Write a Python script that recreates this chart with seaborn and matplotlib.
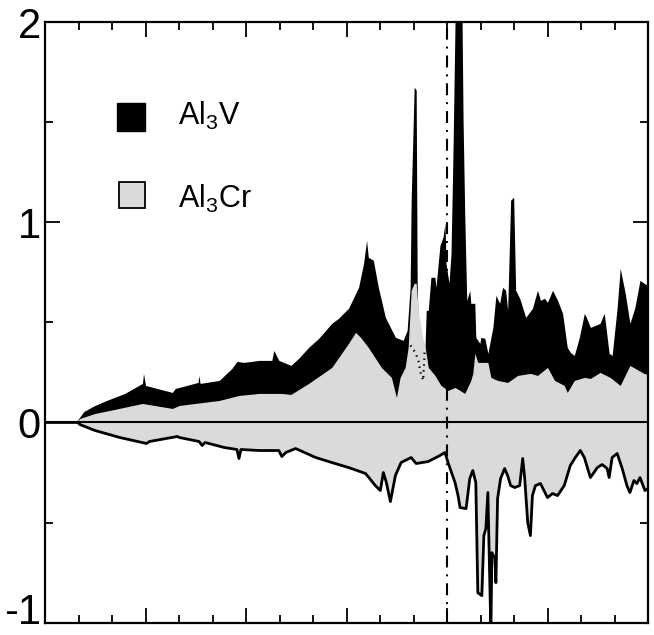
import numpy as np
import matplotlib
matplotlib.use("Agg")
import matplotlib.pyplot as plt
from matplotlib.patches import Rectangle
from matplotlib.transforms import ScaledTranslation
import seaborn as sns

# ---------------- data (energy in eV, DOS in arbitrary units) ----------------
# Al3V total DOS (black, upper)
e_v = [-12.0, -11.08, -10.84, -10.51, -10.16, -9.62, -9.09, -9.06, -9.0, -8.2, -8.11,
       -7.43, -7.41, -7.37, -6.8, -6.42, -6.27, -6.06, -5.61, -5.23, -5.17, -5.02,
       -4.66, -4.43, -4.13, -3.83, -3.44, -3.24, -2.94, -2.64, -2.49, -2.40, -2.35,
       -2.20, -2.05, -1.84, -1.54, -1.31, -1.19, -1.10, -1.07, -1.04, -0.98, -0.92,
       -0.89, -0.83, -0.74, -0.67, -0.62, -0.56, -0.48, -0.36, -0.33, -0.21, -0.12,
       -0.06, -0.03, 0.06, 0.12, 0.18, 0.24, 0.33, 0.45, 0.48, 0.53, 0.59, 0.68,
       0.71, 0.83, 0.86, 0.98, 1.01, 1.13, 1.22, 1.37, 1.46, 1.57, 1.66, 1.75, 1.81,
       1.90, 1.99, 2.05, 2.17, 2.35, 2.55, 2.70, 2.79, 2.91, 3.00, 3.15, 3.30, 3.45,
       3.59, 3.68, 3.80, 3.95, 4.10, 4.16, 4.28, 4.43, 4.57, 4.69, 4.72, 4.84, 4.93,
       5.08, 5.17, 5.32, 5.46, 5.61, 5.76, 5.88, 6.0]
dos_v = [0.0, 0.0, 0.055, 0.085, 0.11, 0.145, 0.195, 0.245, 0.185, 0.15, 0.17,
         0.2, 0.235, 0.195, 0.21, 0.27, 0.305, 0.30, 0.31, 0.31, 0.36, 0.31,
         0.285, 0.32, 0.375, 0.42, 0.495, 0.52, 0.57, 0.675, 0.795, 0.91, 0.825,
         0.81, 0.675, 0.525, 0.425, 0.41, 0.46, 0.675, 1.11, 1.295, 1.675, 1.66,
         0.695, 0.28, 0.21, 0.30, 0.56, 0.56, 0.725, 0.725, 0.675, 0.885, 0.925,
         0.995, 0.795, 0.695, 0.845, 1.36, 2.0, 2.6, 2.0, 1.51, 1.035, 0.61, 0.66,
         0.595, 0.595, 0.425, 0.395, 0.425, 0.42, 0.345, 0.475, 0.635, 0.595, 0.675, 0.66, 0.56,
         1.11, 1.125, 0.66, 0.62, 0.525, 0.57, 0.66, 0.61, 0.62, 0.60, 0.66, 0.61, 0.545,
         0.375, 0.35, 0.335, 0.425, 0.545, 0.525, 0.475, 0.485, 0.495, 0.545, 0.51, 0.345, 0.335,
         0.575, 0.77, 0.645, 0.495, 0.575, 0.71, 0.695, 0.685]

# Al3Cr total DOS (grey, upper)
e_cr = [-12.0, -11.08, -10.96, -10.51, -10.07, -9.09, -8.20, -7.99, -6.80, -6.21, -5.61,
        -4.93, -4.66, -4.13, -3.44, -2.94, -2.73, -2.58, -2.35, -1.96, -1.66, -1.51,
        -1.40, -1.25, -1.16, -1.07, -0.98, -0.92, -0.86, -0.74, -0.65, -0.56, -0.36,
        -0.18, 0.03, 0.24, 0.53, 0.71, 0.77, 0.83, 0.92, 1.22, 1.31, 1.51, 1.81, 2.11,
        2.49, 2.70, 3.00, 3.21, 3.50, 3.59, 3.80, 4.10, 4.28, 4.57, 4.87, 5.17, 5.46,
        5.88, 6.0]
dos_cr = [0.0, 0.0, 0.02, 0.045, 0.06, 0.095, 0.07, 0.085, 0.11, 0.135, 0.145,
          0.145, 0.14, 0.195, 0.275, 0.395, 0.45, 0.425, 0.375, 0.275, 0.225, 0.125,
          0.225, 0.275, 0.375, 0.66, 0.695, 0.695, 0.56, 0.435, 0.375, 0.275, 0.235,
          0.185, 0.16, 0.175, 0.145, 0.21, 0.245, 0.345, 0.30, 0.30, 0.225, 0.21, 0.20, 0.235,
          0.245, 0.235, 0.275, 0.21, 0.185, 0.15, 0.21, 0.225, 0.22, 0.25, 0.225, 0.185, 0.285,
          0.245, 0.24]

# Al3Cr lower panel (drawn downwards)
e_lo = [-12.0, -11.02, -10.96, -10.51, -9.77, -8.97, -8.88, -8.05, -7.99, -7.40, -7.31,
        -7.22, -6.65, -6.27, -6.21, -6.15, -5.61, -5.02, -4.93, -4.81, -4.52, -3.92,
        -3.44, -2.94, -2.43, -2.14, -1.99, -1.90, -1.81, -1.69, -1.54, -1.37, -1.07,
        -0.92, -0.56, -0.21, -0.06, 0.03, 0.24, 0.33, 0.39, 0.57, 0.68, 0.77, 0.86,
        0.92, 1.04, 1.10, 1.16, 1.22, 1.31, 1.34, 1.43, 1.46, 1.51, 1.60, 1.72, 1.81,
        1.90, 2.02, 2.17, 2.26, 2.32, 2.41, 2.49, 2.55, 2.64, 2.79, 3.00, 3.15, 3.30,
        3.50, 3.68, 3.83, 3.98, 4.10, 4.28, 4.49, 4.63, 4.78, 4.84, 4.93, 5.08, 5.23,
        5.37, 5.46, 5.58, 5.67, 5.76, 5.91, 6.0]
dos_lo = [0.0, 0.0, -0.01, -0.04, -0.075, -0.105, -0.095, -0.07, -0.075, -0.095, -0.115,
          -0.10, -0.125, -0.135, -0.18, -0.135, -0.14, -0.14, -0.17, -0.15, -0.13, -0.175,
          -0.20, -0.225, -0.255, -0.315, -0.34, -0.25, -0.30, -0.395, -0.265, -0.20, -0.175,
          -0.205, -0.195, -0.165, -0.15, -0.20, -0.30, -0.365, -0.425, -0.43, -0.28, -0.24, -0.30,
          -0.85, -0.865, -0.565, -0.53, -0.35, -1.05, -0.65, -0.68, -0.80, -0.38, -0.28, -0.23, -0.265,
          -0.315, -0.325, -0.315, -0.18, -0.28, -0.50, -0.565, -0.365, -0.315, -0.305, -0.375, -0.355, -0.365,
          -0.315, -0.215, -0.175, -0.14, -0.175, -0.275, -0.225, -0.21, -0.23, -0.275, -0.175, -0.155, -0.23,
          -0.315, -0.35, -0.29, -0.305, -0.275, -0.34, -0.33]

# hidden part of the Al3V curve (dotted)
e_dot = [-1.09, -0.93, -0.84, -0.80, -0.71, -0.70, -0.68, -0.67]
dos_dot = [0.385, 0.345, 0.30, 0.255, 0.21, 0.255, 0.30, 0.35]

y_ticks = [-1, 0, 1, 2]
y_tick_labels = ["-1", "0", "1", "2"]
legend_labels = ["Al$_3$V", "Al$_3$Cr"]

GREY = "#dadada"

# ---------------- style ----------------
sns.set_theme(style="white")
plt.rcParams["font.family"] = ["Liberation Sans", "DejaVu Sans"]
plt.rcParams["mathtext.fontset"] = "custom"
plt.rcParams["mathtext.rm"] = "Liberation Sans"
plt.rcParams["mathtext.default"] = "regular"
plt.rcParams["axes.unicode_minus"] = False
plt.rcParams["lines.scale_dashes"] = False
plt.rcParams["text.color"] = "black"
plt.rcParams["ytick.labelcolor"] = "black"

W, H = 654, 635
fig = plt.figure(figsize=(W / 100, H / 100), dpi=100)
ax = fig.add_axes([45 / W, 1 - 622.7 / H, 603 / W, 600.7 / H])

ax.fill_between(e_v, 0, dos_v, color="black", lw=0, zorder=2)
ax.fill_between(e_cr, 0, dos_cr, color=GREY, lw=0, zorder=3)
ax.fill_between(e_lo, 0, dos_lo, color=GREY, lw=0, zorder=3)
sns.lineplot(x=e_lo, y=dos_lo, color="black", lw=2.0, sort=False, estimator=None,
             ax=ax, zorder=4)
sns.lineplot(x=e_dot, y=dos_dot, color="black", lw=1.6, sort=False, estimator=None,
             linestyle=(0, (1.0, 3.2)), ax=ax, zorder=4)
ax.axhline(0, color="black", lw=1.5, zorder=5)
ax.axvline(0, color="black", lw=1.5, linestyle=(0, (8.6, 5, 1.4, 5)), zorder=6)

ax.set_xlim(-12, 6)
ax.set_ylim(-1, 2)
ax.set_xticks(np.arange(-12, 6.01, 3))
ax.set_xticks(np.arange(-12, 6.01, 1), minor=True)
ax.set_xticklabels([])
ax.set_yticks(y_ticks)
ax.set_yticklabels(y_tick_labels, fontsize=30, color="black")
ax.set_yticks(np.arange(-1, 2.01, 0.5), minor=True)
ax.tick_params(which="both", direction="in", top=True, right=True, bottom=True,
               left=True, color="black", width=1.3)
ax.tick_params(which="major", length=10.8, pad=3)
ax.tick_params(which="minor", length=5.5)
ax.set_xlabel("")
ax.set_ylabel("")
for s in ax.spines.values():
    s.set_color("black")
    s.set_linewidth(1.6)
    s.set_zorder(10)

# nudge the bottom label up so it stays inside the canvas
bottom_label = ax.get_yticklabels()[0]
bottom_label.set_transform(bottom_label.get_transform()
                           + ScaledTranslation(0, 14 / 100, fig.dpi_scale_trans))

# legend drawn by hand
fig.patches.append(Rectangle((117 / W, 1 - 131 / H), 28 / W, 28 / H,
                             transform=fig.transFigure, facecolor="black",
                             edgecolor="black", lw=1.0))
fig.patches.append(Rectangle((118.5 / W, 1 - 208 / H), 26.5 / W, 26 / H,
                             transform=fig.transFigure, facecolor=GREY,
                             edgecolor="black", lw=1.3))
fig.text(178 / W, 1 - 125 / H, legend_labels[0], fontsize=22, va="baseline", ha="left")
fig.text(178 / W, 1 - 208 / H, legend_labels[1], fontsize=22, va="baseline", ha="left")

fig.savefig("out.png", dpi=100)
